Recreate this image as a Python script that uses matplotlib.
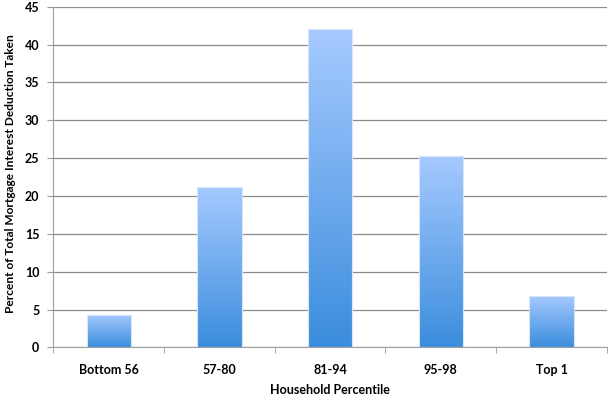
import numpy as np
import matplotlib.pyplot as plt
from matplotlib.colors import LinearSegmentedColormap

categories = ["Bottom 56", "57-80", "81-94", "95-98", "Top 1"]
values = [4.3, 21.2, 42.0, 25.3, 6.8]

plt.rcParams["font.family"] = ["Lato", "DejaVu Sans"]
plt.rcParams["font.weight"] = "bold"

fig = plt.figure(figsize=(6.15, 3.98), dpi=100)
ax = fig.add_axes([0.0867, 0.127, 0.9, 0.856])

grad = LinearSegmentedColormap.from_list("bar", ["#3b8ddd", "#a6caff"])
x = np.arange(len(categories))
bars = ax.bar(x, values, width=0.4, color="none", edgecolor="#d6e6fa", linewidth=0.8, zorder=3)
g = np.linspace(0, 1, 256).reshape(-1, 1)
for b in bars:
    x0, y0 = b.get_x(), b.get_y()
    im = ax.imshow(g, cmap=grad, origin="lower", aspect="auto", zorder=2,
                   extent=[x0, x0 + b.get_width(), y0, y0 + b.get_height()])
    im.set_clip_path(b)

ax.set_xlim(-0.5, len(categories) - 0.5)
ax.set_ylim(0, 45)
ax.set_yticks(range(0, 46, 5))
ax.set_xticks(x)
ax.set_xticklabels(categories)
ax.set_xticks(np.arange(-0.5, len(categories)), minor=True)
ax.tick_params(axis="x", which="major", length=0, pad=12, labelsize=9)
ax.tick_params(axis="x", which="minor", length=4, color="#999999")
ax.tick_params(axis="y", length=4, color="#999999", labelsize=9, pad=6)
ax.grid(axis="y", color="#8c8c8c", linewidth=0.9, zorder=0)
ax.set_axisbelow(True)
for s in ["top", "right"]:
    ax.spines[s].set_visible(False)
for s in ["left", "bottom"]:
    ax.spines[s].set_color("#a0a0a0")
ax.set_xlabel("Household Percentile", fontsize=9, fontweight="bold", labelpad=6)
ax.set_ylabel("Percent of Total Mortgage Interest Deduction Taken", fontsize=8.6, fontweight="bold")
ax.yaxis.set_label_coords(-0.067, 0.51)

fig.savefig("out.png", dpi=100)
